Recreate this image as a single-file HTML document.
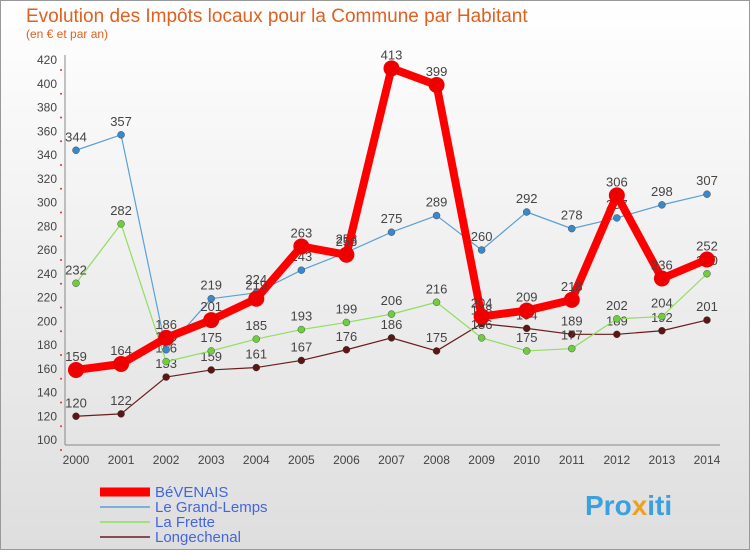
<!DOCTYPE html>
<html><head><meta charset="utf-8"><style>
body{margin:0;width:750px;height:550px;overflow:hidden;font-family:"Liberation Sans",sans-serif}
</style></head><body>
<svg id="c" width="750" height="550" xmlns="http://www.w3.org/2000/svg">
<defs><linearGradient id="bg" x1="0" y1="0" x2="0" y2="1"><stop offset="0" stop-color="#ffffff"/><stop offset="1" stop-color="#dedede"/></linearGradient></defs>
<rect x="0.5" y="0.5" width="749" height="549" fill="url(#bg)" stroke="#999"/>
<text x="26" y="22" font-size="19" font-weight="normal" fill="#e06020">Evolution des Impôts locaux pour la Commune par Habitant</text>
<text x="26" y="38" font-size="12" fill="#e06020">(en € et par an)</text>
<g id="grid"></g><g id="series"></g><g id="legend"></g>
<text x="585" y="515" font-size="28" font-weight="bold" fill="#3aa0e0">Pro<tspan fill="#f0a020">x</tspan>iti</text>
</svg>
<script>
const years=[2000,2001,2002,2003,2004,2005,2006,2007,2008,2009,2010,2011,2012,2013,2014];
const yTicks=[100,120,140,160,180,200,220,240,260,280,300,320,340,360,380,400,420];
const bevenais=[159,164,186,201,219,263,256,413,399,204,209,218,306,236,252];
const grandLemps=[344,357,176,219,224,243,258,275,289,260,292,278,287,298,307];
const frette=[232,282,166,175,185,193,199,206,216,186,175,177,202,204,240];
const longechenal=[120,122,153,159,161,167,176,186,175,198,194,189,189,192,201];
const names=["BéVENAIS","Le Grand-Lemps","La Frette","Longechenal"];
const NS="http://www.w3.org/2000/svg";
const x=i=>76+i*45.07, y=v=>440-(v-100)*1.1875;
function mk(t,a,p){const e=document.createElementNS(NS,t);for(const k in a)e.setAttribute(k,a[k]);p.appendChild(e);return e;}
const g=document.getElementById('grid');
yTicks.forEach(v=>{const l=mk('circle',{cx:61,cy:y(v)+10,r:1,fill:'#e03030'},g);


const t=mk('text',{x:57,y:y(v)+4,'font-size':12,'text-anchor':'end',fill:'#444'},g);t.textContent=v;

});
mk('line',{x1:65,x2:65,y1:55,y2:445,stroke:'#888'},g);
mk('line',{x1:65,x2:720,y1:445,y2:445,stroke:'#888'},g);
years.forEach((yr,i)=>{const t=mk('text',{x:x(i),y:464,'font-size':12,'text-anchor':'middle',fill:'#444'},g);t.textContent=yr;

});
const S=document.getElementById('series');
const defs=[[longechenal,'#6b1c1c','#5a1515',1.2,3.5],[frette,'#90dd60','#70cc40',1.2,3.5],[grandLemps,'#5aa0d8','#3a88cc',1.2,3.5],[bevenais,'#ff0000','#ee0000',8,8]];
const idx=[3,2,1,0];
defs.forEach(([d,c,fc,w,r],k)=>{const grp=mk('g',{},S);


mk('polyline',{points:d.map((v,i)=>x(i)+','+y(v)).join(' '),fill:'none',stroke:c,'stroke-width':w,'stroke-linejoin':'round'},grp);
d.forEach((v,i)=>{const p=mk('circle',{cx:x(i),cy:y(v),r:r,fill:fc,stroke:r>5?'none':'#333','stroke-width':0.4},grp);


const t=mk('text',{x:x(i),y:y(v)-9,'font-size':13,'text-anchor':'middle',fill:'#444'},grp);t.textContent=v;

});});
const L=document.getElementById('legend');
const lc=['#ff0000','#5aa0d8','#90dd60','#6b1c1c'],lw=[9,1.5,1.5,1.5];
names.forEach((n,i)=>{const yy=492+i*15;
const ln=mk('line',{x1:100,x2:150,y1:yy,y2:yy,stroke:lc[i],'stroke-width':lw[i]},L);


const t=mk('text',{x:155,y:yy+5,'font-size':15,fill:'#4466dd'},L);t.textContent=n;

});
</script>
</body></html>
